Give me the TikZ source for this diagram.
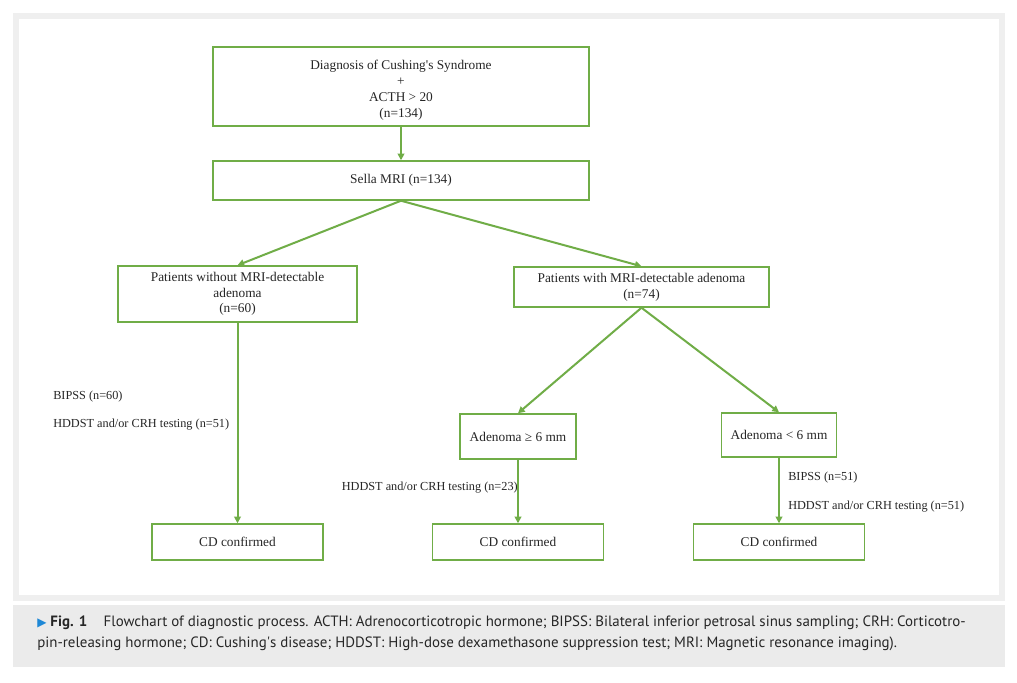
\documentclass[tikz,border=0pt]{standalone}
\usepackage{fontspec}
\setmainfont{Liberation Serif}
\newfontfamily\capfont{PT Sans}
\newfontfamily\symfont{DejaVu Sans}
\usepackage{xcolor}
\usetikzlibrary{arrows.meta, positioning}
\definecolor{flowgreen}{HTML}{70AD47}
\definecolor{panelgray}{HTML}{EFEFEF}
\definecolor{capgray}{HTML}{EBEBEB}
\definecolor{figblue}{HTML}{1E88D6}

\begin{document}
\begin{tikzpicture}[
    x=0.75pt, y=-0.75pt,
    box/.style={draw=flowgreen, line width=1.1pt, rectangle, fill=white, align=center, inner sep=2pt, font=\fontsize{10}{11.8}\selectfont, text=black!85},
    lbl/.style={inner sep=0pt, font=\fontsize{9.2}{11}\selectfont, text=black!85},
    arrow/.style={-{Triangle[length=5pt, width=5pt]}, draw=flowgreen, line width=1.5pt}
]

% Page, figure panel and caption strip
\useasboundingbox[fill=white] (0,0) rectangle (1017,682);
\fill[panelgray] (13,13) rectangle (1005,601);
\fill[white] (19,19) rectangle (999,595);
\fill[capgray] (13,605) rectangle (1005,667);

% Nodes (top flow)
\node[box, minimum width=282pt, minimum height=59.25pt] (diag) at (401,86.5) {\rule{0pt}{12.5pt}Diagnosis of Cushing\textquotesingle s Syndrome\\+\\ACTH > 20\\(n=134)};
\node[box, minimum width=282pt, minimum height=29.25pt] (sella) at (401,180.5) {Sella MRI (n=134)};

% Nodes (MRI result)
\node[box, minimum width=179.25pt, minimum height=42pt] (nomri) at (237.5,294) {Patients without MRI-detectable\\adenoma\\(n=60)};
\node[box, minimum width=191.25pt, minimum height=30pt] (withmri) at (641.5,287) {Patients with MRI-detectable adenoma\\(n=74)};
\node[box, minimum width=87pt, minimum height=33.75pt] (large) at (518,436.5) {Adenoma ≥ 6 mm};
\node[box, minimum width=86.25pt, minimum height=33pt] (small) at (779,435) {Adenoma < 6 mm};

% Nodes (outcome)
\node[box, minimum width=128.25pt, minimum height=27pt] (cdleft) at (237.5,542) {CD confirmed};
\node[box, minimum width=128.25pt, minimum height=27pt] (cdmid) at (518,542) {CD confirmed};
\node[box, minimum width=128.25pt, minimum height=27pt] (cdright) at (779,542) {CD confirmed};

% Test labels
\node[lbl, anchor=west] (bipssl) at (53,397) {BIPSS (n=60)};
\node[lbl, anchor=west] (testl) at (53,425) {HDDST and/or CRH testing (n=51)};
\node[lbl, anchor=east] (testm) at (518,488) {HDDST and/or CRH testing (n=23)};
\node[lbl, anchor=west] (bipssr) at (788,478) {BIPSS (n=51)};
\node[lbl, anchor=west] (testr) at (788,507) {HDDST and/or CRH testing (n=51)};

% Caption
\node[anchor=north west, inner sep=0pt, align=left, font=\capfont\fontsize{11.2}{15.75}\selectfont, text=black!85] (caption) at (37,616) {{\symfont\fontsize{9}{9}\selectfont\color{figblue}▶}\hspace{3pt}\textbf{Fig. 1}\hspace{1.1em}Flowchart of diagnostic process. ACTH: Adrenocorticotropic hormone; BIPSS: Bilateral inferior petrosal sinus sampling; CRH: Corticotro-\\pin-releasing hormone; CD: Cushing\textquotesingle s disease; HDDST: High-dose dexamethasone suppression test; MRI: Magnetic resonance imaging).};

% Arrows main flow
\draw[arrow] (diag) -- (sella);
\draw[arrow] (sella.south) -- (nomri.north);
\draw[arrow] (sella.south) -- (withmri.north);
\draw[arrow] (withmri.south) -- (large.north);
\draw[arrow] (withmri.south) -- (small.north);

% Arrows to outcome
\draw[arrow] (nomri) -- (cdleft);
\draw[arrow] (large) -- (cdmid);
\draw[arrow] (small) -- (cdright);

\end{tikzpicture}
\end{document}
